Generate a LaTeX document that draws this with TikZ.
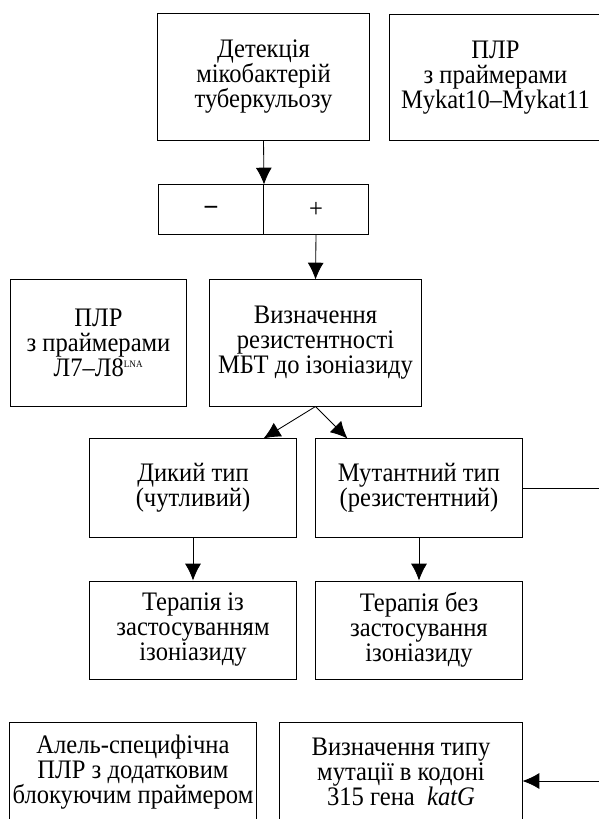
\documentclass[tikz,border=0pt]{standalone}
\usepackage{fontspec}
\setmainfont{Liberation Serif}[FakeStretch=0.92]
\usetikzlibrary{arrows.meta,calc,positioning}

\begin{document}
\begin{tikzpicture}[
    x=0.025cm,
    y=-0.025cm,
    >={Latex[length=4.2mm,width=4mm]},
    box/.style={draw, line width=0.7pt, align=center, inner sep=2pt, font=\fontsize{19}{17.8}\selectfont},
    bigbox/.style={box, minimum width=5.275cm, minimum height=3.15cm},
    narrowbox/.style={box, minimum width=4.375cm, minimum height=3.15cm},
    midbox/.style={box, minimum width=5.15cm, minimum height=2.45cm},
    lowbox/.style={box, minimum width=6.05cm, minimum height=2.5cm},
    signbox/.style={box, minimum width=2.625cm, minimum height=1.225cm},
    line/.style={->, line width=0.6pt}
]
\useasboundingbox (0,0) rectangle (598,819);
\node[bigbox] (detect) at (263.5,77) {Детекція\\мікобактерій\\туберкульозу};
\node[bigbox] (mykat) at (495.5,77.5) {ПЛР\\з праймерами\\Mykat10–Mykat11};
\node[signbox] (minus) at (211,209.5) {\textbf{–}};
\node[signbox] (plus) at (316,209.5) {+};
\node[narrowbox] (plrl) at (98.5,343) {ПЛР\\з праймерами\\Л7–Л8\textsuperscript{\scriptsize LNA}};
\node[bigbox] (resist) at (315.5,343) {Визначення\\резистентності\\МБТ до ізоніазиду};
\node[midbox] (wild) at (193,488) {Дикий тип\\(чутливий)};
\node[midbox] (mutant) at (419,488) {Мутантний тип\\(резистентний)};
\node[midbox] (therwith) at (193,630) {Терапія із\\застосуванням\\ізоніазиду};
\node[midbox] (therwithout) at (419,630) {Терапія без\\застосування\\ізоніазиду};
\node[lowbox] (allele) at (133,772) {Алель-специфічна\\ПЛР з додатковим\\блокуючим праймером};
\node[lowbox] (mutype) at (401,772) {Визначення типу\\мутації в кодоні\\315 гена~~\textit{katG}};
\coordinate (edgeA) at (600,488);
\coordinate (edgeB) at (600,781);

\draw[line] (detect.south) -- (minus.north east);
\draw[line] (plus.south) -- (resist.north);
\draw[line] (resist.south) -- ($(wild.north east)+(-33,0)$);
\draw[line] (resist.south) -- ($(mutant.north west)+(32,0)$);
\draw[line] (wild) -- (therwith);
\draw[line] (mutant) -- (therwithout);
\draw[line width=0.6pt] (mutant.east) -- (edgeA);
\draw[line] (edgeB) -- (edgeB -| mutype.east);
\end{tikzpicture}
\end{document}
